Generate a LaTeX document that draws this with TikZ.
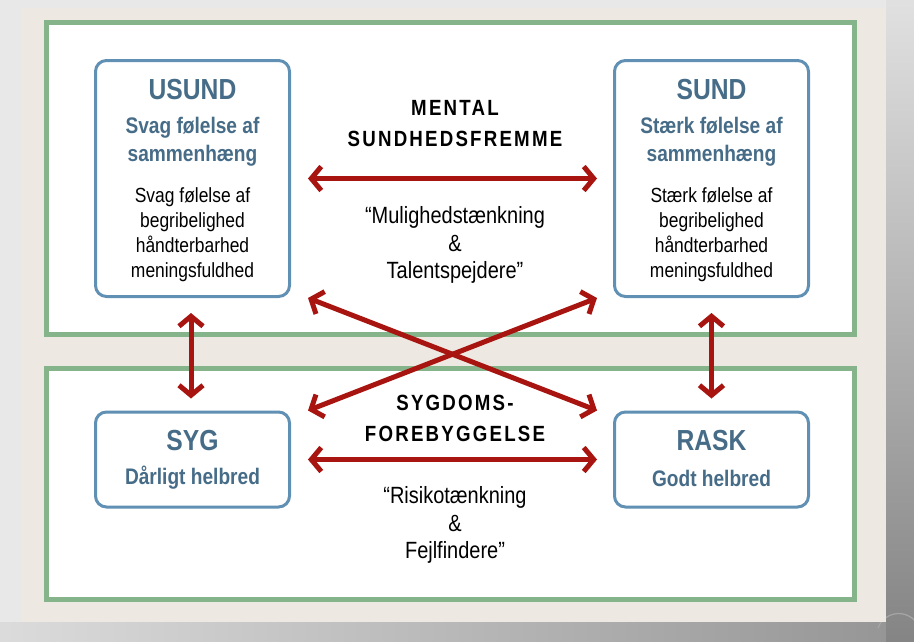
\documentclass[tikz,border=0pt]{standalone}
\usepackage{fontspec}
\setmainfont[FakeStretch=0.85]{Liberation Sans}
\usetikzlibrary{positioning,arrows.meta,calc}

\definecolor{slidebg}{HTML}{EDE8E2}
\definecolor{framegreen}{HTML}{86B48A}
\definecolor{boxblue}{HTML}{6090B4}
\definecolor{titleblue}{HTML}{466C88}
\definecolor{arrowred}{HTML}{A8140F}

\tikzset{
  panel/.style={draw=framegreen, line width=5pt, fill=white},
  statebox/.style={draw=boxblue, line width=3pt, rounded corners=11pt, fill=white,
    minimum width=194pt, inner sep=0pt},
  titletext/.style={text=titleblue, font=\bfseries\fontsize{29}{30}\selectfont},
  subtext/.style={text=titleblue, font=\bfseries\fontsize{22.5}{28}\selectfont, align=center},
  bodytext/.style={font=\fontsize{20.5}{25}\selectfont, align=center},
  headtext/.style={font=\bfseries\fontsize{22}{31}\selectfont\addfontfeatures{LetterSpace=10}, align=center},
  quotetext/.style={font=\fontsize{23.5}{27.5}\selectfont, align=center},
  arr/.style={draw=arrowred, line width=5pt,
    {Straight Barb[length=10pt,width=24pt]}-{Straight Barb[length=10pt,width=24pt]}},
}

\begin{document}
\begin{tikzpicture}[x=1pt,y=-1pt]

  % background and slide
  \useasboundingbox (0,0) rectangle (914,641);
  \fill[black!9] (0,0) rectangle (914,641);
  \shade[left color=black!14, right color=black!42] (0,622) rectangle (914,641);
  \shade[top color=black!12, bottom color=black!48] (886,0) rectangle (914,641);
  \draw[black!35, line width=1.2pt] (878,628) arc[start angle=200, end angle=330, radius=22];
  \fill[slidebg] (21,8) rectangle (886,622);

  % the two panels
  \draw[panel] (46.5,22.5) rectangle (854.5,334.5);
  \draw[panel] (46.5,368.5) rectangle (854.5,599.5);

  % state boxes
  \node[statebox, minimum height=236pt] (usund) at (192.5,178.5) {};
  \node[statebox, minimum height=236pt] (sund) at (711.5,178.5) {};
  \node[statebox, minimum height=95pt] (syg) at (192.5,459.5) {};
  \node[statebox, minimum height=95pt] (rask) at (711.5,459.5) {};

  % texts in the boxes
  \node[titletext] (usundtitle) at (192.5,90) {USUND};
  \node[subtext] (usundsub) at (192.5,142) {Svag følelse af\\sammenhæng};
  \node[bodytext] (usundbody) at (192.5,234.5) {Svag følelse af\\begribelighed\\håndterbarhed\\meningsfuldhed};

  \node[titletext] (sundtitle) at (711.5,90) {SUND};
  \node[subtext] (sundsub) at (711.5,142) {Stærk følelse af\\sammenhæng};
  \node[bodytext] (sundbody) at (711.5,234.5) {Stærk følelse af\\begribelighed\\håndterbarhed\\meningsfuldhed};

  \node[titletext] (sygtitle) at (192.5,441) {SYG};
  \node[subtext] (sygsub) at (192.5,478) {Dårligt helbred};

  \node[titletext] (rasktitle) at (711.5,441) {RASK};
  \node[subtext] (rasksub) at (711.5,478) {Godt helbred};

  % middle texts
  \node[headtext] (mental) at (455,124) {MENTAL\\SUNDHEDSFREMME};
  \node[quotetext] (mulig) at (455,245) {“Mulighedstænkning\\\&\\Talentspejdere”};
  \node[headtext] (sygdom) at (455,418) {SYGDOMS-\\FOREBYGGELSE};
  \node[quotetext] (risiko) at (455,525) {“Risikotænkning\\\&\\Fejlfindere”};

  % arrows
  \draw[arr, shorten <=17pt, shorten >=16pt] (usund) -- (sund);
  \draw[arr, shorten <=17pt, shorten >=16pt] (syg) -- (rask);
  \draw[arr, shorten <=15pt, shorten >=12pt] ([xshift=-1.5pt]usund.south) -- ([xshift=-1.5pt]syg.north);
  \draw[arr, shorten <=15pt, shorten >=12pt] (sund.south) -- (rask.north);
  \draw[arr] ([xshift=17pt]usund.south east) -- ([xshift=-16pt]rask.north west);
  \draw[arr] ([xshift=-16pt]sund.south west) -- ([xshift=17pt]syg.north east);

\end{tikzpicture}
\end{document}
